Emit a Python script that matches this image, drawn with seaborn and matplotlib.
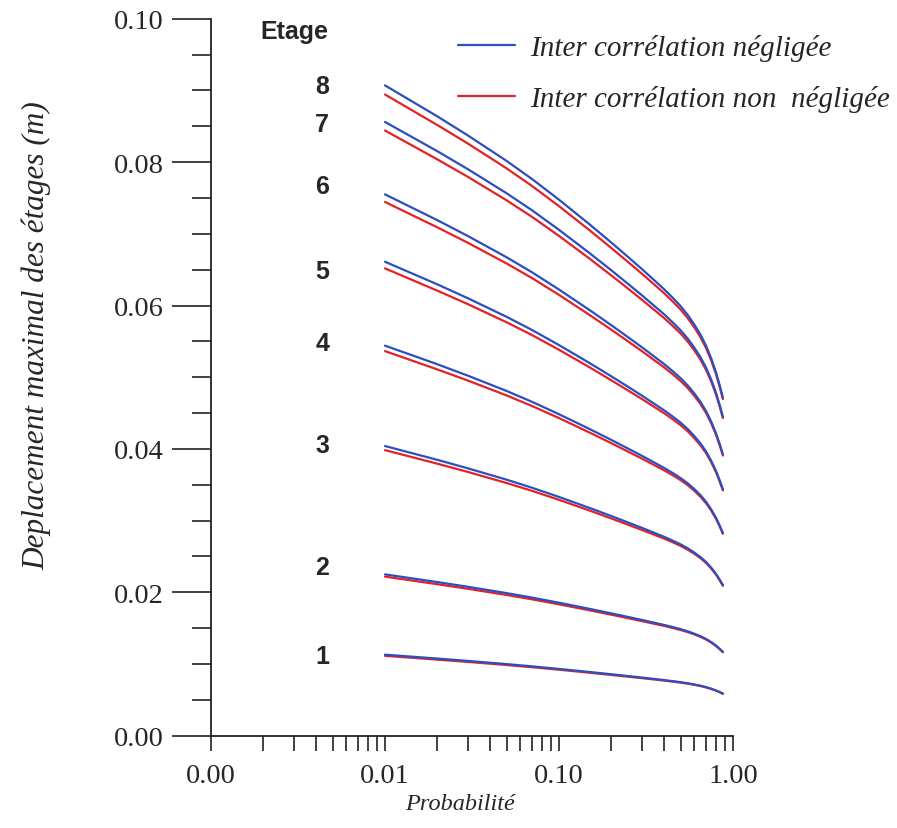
import numpy as np
import pandas as pd
import matplotlib
matplotlib.use("Agg")
import matplotlib.pyplot as plt
import seaborn as sns
from matplotlib.lines import Line2D
from matplotlib.ticker import FixedLocator, FormatStrFormatter, LogLocator, NullFormatter

# ---------------- data ----------------
prob = [0.01, 0.02, 0.03, 0.05, 0.07, 0.1, 0.15, 0.2, 0.25, 0.3, 0.4, 0.45, 0.5,
        0.55, 0.6, 0.65, 0.7, 0.75, 0.8, 0.84, 0.875]
floors = [1, 2, 3, 4, 5, 6, 7, 8]

# Inter corrélation négligée (blue)
neg_1 = [0.011300, 0.010761, 0.010429, 0.009987, 0.009673, 0.009313, 0.008884, 0.008568,
         0.008316, 0.008107, 0.007764, 0.007611, 0.007464, 0.007309, 0.007143, 0.006970,
         0.006777, 0.006554, 0.006305, 0.006079, 0.005871]
neg_2 = [0.022500, 0.021427, 0.020765, 0.019886, 0.019260, 0.018545, 0.017690, 0.017060,
         0.016558, 0.016142, 0.015460, 0.015154, 0.014861, 0.014553, 0.014222, 0.013878,
         0.013493, 0.013050, 0.012555, 0.012105, 0.011691]
neg_3 = [0.040400, 0.038473, 0.037285, 0.035706, 0.034582, 0.033298, 0.031762, 0.030631,
         0.029730, 0.028983, 0.027759, 0.027209, 0.026684, 0.026131, 0.025537, 0.024919,
         0.024228, 0.023432, 0.022543, 0.021735, 0.020992]
neg_4 = [0.054400, 0.051805, 0.050206, 0.048079, 0.046566, 0.044836, 0.042769, 0.041246,
         0.040033, 0.039027, 0.037378, 0.036638, 0.035931, 0.035186, 0.034386, 0.033554,
         0.032624, 0.031552, 0.030355, 0.029267, 0.028266]
neg_5 = [0.066100, 0.062947, 0.061004, 0.058419, 0.056582, 0.054480, 0.051968, 0.050117,
         0.048643, 0.047420, 0.045417, 0.044518, 0.043659, 0.042753, 0.041782, 0.040770,
         0.039640, 0.038338, 0.036884, 0.035562, 0.034346]
neg_6 = [0.075500, 0.071899, 0.069679, 0.066727, 0.064628, 0.062227, 0.059358, 0.057244,
         0.055560, 0.054164, 0.051876, 0.050849, 0.049868, 0.048833, 0.047724, 0.046568,
         0.045277, 0.043790, 0.042129, 0.040619, 0.039230]
neg_7 = [0.085600, 0.081517, 0.079000, 0.075653, 0.073274, 0.070552, 0.067299, 0.064902,
         0.062993, 0.061409, 0.058816, 0.057652, 0.056539, 0.055366, 0.054108, 0.052798,
         0.051334, 0.049648, 0.047765, 0.046053, 0.044478]
neg_8 = [0.090700, 0.086374, 0.083707, 0.080161, 0.077639, 0.074755, 0.071308, 0.068769,
         0.066746, 0.065068, 0.062320, 0.061086, 0.059907, 0.058665, 0.057331, 0.055944,
         0.054393, 0.052606, 0.050611, 0.048797, 0.047128]

# Inter corrélation non négligée (red)
non_1 = [0.011142, 0.010610, 0.010288, 0.009857, 0.009552, 0.009202, 0.008782, 0.008473,
         0.008228, 0.008026, 0.007694, 0.007546, 0.007404, 0.007254, 0.007093, 0.006925,
         0.006736, 0.006518, 0.006274, 0.006052, 0.005848]
non_2 = [0.022185, 0.021127, 0.020485, 0.019627, 0.019019, 0.018322, 0.017486, 0.016872,
         0.016384, 0.015980, 0.015321, 0.015025, 0.014742, 0.014444, 0.014123, 0.013788,
         0.013412, 0.012978, 0.012492, 0.012051, 0.011644]
non_3 = [0.039834, 0.037934, 0.036782, 0.035241, 0.034150, 0.032898, 0.031397, 0.030294,
         0.029418, 0.028693, 0.027509, 0.026978, 0.026471, 0.025935, 0.025358, 0.024757,
         0.024082, 0.023303, 0.022430, 0.021637, 0.020908]
non_4 = [0.053638, 0.051080, 0.049528, 0.047454, 0.045984, 0.044298, 0.042278, 0.040792,
         0.039612, 0.038637, 0.037042, 0.036327, 0.035644, 0.034922, 0.034146, 0.033336,
         0.032428, 0.031378, 0.030203, 0.029136, 0.028153]
non_5 = [0.065175, 0.062066, 0.060180, 0.057660, 0.055874, 0.053826, 0.051370, 0.049566,
         0.048132, 0.046946, 0.045009, 0.044140, 0.043310, 0.042433, 0.041490, 0.040505,
         0.039402, 0.038127, 0.036699, 0.035402, 0.034208]
non_6 = [0.074443, 0.070892, 0.068738, 0.065859, 0.063820, 0.061480, 0.058676, 0.056614,
         0.054977, 0.053622, 0.051409, 0.050417, 0.049469, 0.048467, 0.047390, 0.046266,
         0.045006, 0.043549, 0.041918, 0.040436, 0.039073]
non_7 = [0.084402, 0.080376, 0.077934, 0.074670, 0.072358, 0.069705, 0.066525, 0.064188,
         0.062331, 0.060796, 0.058287, 0.057161, 0.056087, 0.054951, 0.053729, 0.052455,
         0.051026, 0.049375, 0.047526, 0.045846, 0.044300]
non_8 = [0.089430, 0.085165, 0.082577, 0.079119, 0.076669, 0.073858, 0.070488, 0.068012,
         0.066045, 0.064418, 0.061759, 0.060567, 0.059428, 0.058225, 0.056931, 0.055580,
         0.054066, 0.052317, 0.050358, 0.048577, 0.046939]

x_ticks = [0.001, 0.01, 0.1, 1.0]
y_ticks = [0.00, 0.02, 0.04, 0.06, 0.08, 0.10]

label_neg = "Inter corrélation négligée"
label_non = "Inter corrélation non  négligée"

# floor label positions (layout)
floor_label_x = 0.00435
floor_label_y = [0.0111, 0.0235, 0.0405, 0.0548, 0.0648, 0.0767, 0.0853, 0.0906]

neg_all = [neg_1, neg_2, neg_3, neg_4, neg_5, neg_6, neg_7, neg_8]
non_all = [non_1, non_2, non_3, non_4, non_5, non_6, non_7, non_8]

rows = []
for f, nv, rv in zip(floors, neg_all, non_all):
    for p, a, b in zip(prob, nv, rv):
        rows.append({"Probabilité": p, "Deplacement": a, "Série": label_neg, "Etage": f})
        rows.append({"Probabilité": p, "Deplacement": b, "Série": label_non, "Etage": f})
df = pd.DataFrame(rows)

# ---------------- style ----------------
sns.set_style("ticks")
plt.rcParams["font.family"] = ["Liberation Serif", "DejaVu Serif"]

BLUE = "#2b4fc0"
RED = "#e32228"

fig = plt.figure(figsize=(8.97, 8.29), dpi=100)
ax = fig.add_axes([211 / 897, 1 - 736.7 / 829, 522 / 897, 717 / 829])

sns.lineplot(data=df[df["Série"] == label_non], x="Probabilité", y="Deplacement",
             units="Etage", estimator=None, color=RED, linewidth=1.6,
             sort=False, legend=False, ax=ax)
sns.lineplot(data=df[df["Série"] == label_neg], x="Probabilité", y="Deplacement",
             units="Etage", estimator=None, color=BLUE, linewidth=1.6,
             sort=False, legend=False, ax=ax)

ax.set_xscale("log")
ax.set_xlim(0.001, 1.0)
ax.set_ylim(0, 0.10)
sns.despine(ax=ax)
for s in ("left", "bottom"):
    ax.spines[s].set_linewidth(1.3)
    ax.spines[s].set_color("#222222")

ax.xaxis.set_major_locator(FixedLocator(x_ticks))
ax.xaxis.set_major_formatter(FormatStrFormatter("%.2f"))
ax.xaxis.set_minor_locator(LogLocator(base=10, subs=np.arange(2, 10)))
ax.xaxis.set_minor_formatter(NullFormatter())
ax.yaxis.set_major_locator(FixedLocator(y_ticks))
ax.yaxis.set_major_formatter(FormatStrFormatter("%.2f"))
ax.yaxis.set_minor_locator(FixedLocator(np.arange(0.005, 0.1, 0.005)))

ax.tick_params(axis="x", which="both", direction="out", length=11, width=1.2,
               color="#222222", labelsize=20.5, pad=9)
ax.tick_params(axis="y", which="major", direction="out", length=28, width=1.2,
               color="#222222", labelsize=20.5, pad=6)
ax.tick_params(axis="y", which="minor", direction="out", length=14, width=1.2,
               color="#222222")

ax.set_xlabel("Probabilité", fontsize=17.5, style="italic")
ax.xaxis.set_label_coords(0.477, -0.08)
ax.set_ylabel("Deplacement maximal des étages (m)", fontsize=22.5, style="italic")
ax.yaxis.set_label_coords(-0.305, 0.56)

for f, yy in zip(floors, floor_label_y):
    ax.text(floor_label_x, yy, str(f), ha="center", va="center", fontsize=18,
            fontweight="bold", family=["Liberation Sans", "DejaVu Sans"], clip_on=False)
ax.text(0.0030, 0.0983, "Etage", ha="center", va="center", fontsize=18,
        fontweight="bold", family=["Liberation Sans", "DejaVu Sans"], clip_on=False)

handles = [Line2D([], [], color=BLUE, lw=1.6), Line2D([], [], color=RED, lw=1.6)]
fig.legend(handles, [label_neg, label_non], loc="upper left",
           bbox_to_anchor=(458 / 897, 1 - 35 / 829), frameon=False,
           borderpad=0, borderaxespad=0, handlelength=1.95, handletextpad=0.52,
           labelspacing=0.82,
           prop={"family": "Liberation Serif", "style": "italic", "size": 21})

fig.savefig("out.png", dpi=100, facecolor="white")
